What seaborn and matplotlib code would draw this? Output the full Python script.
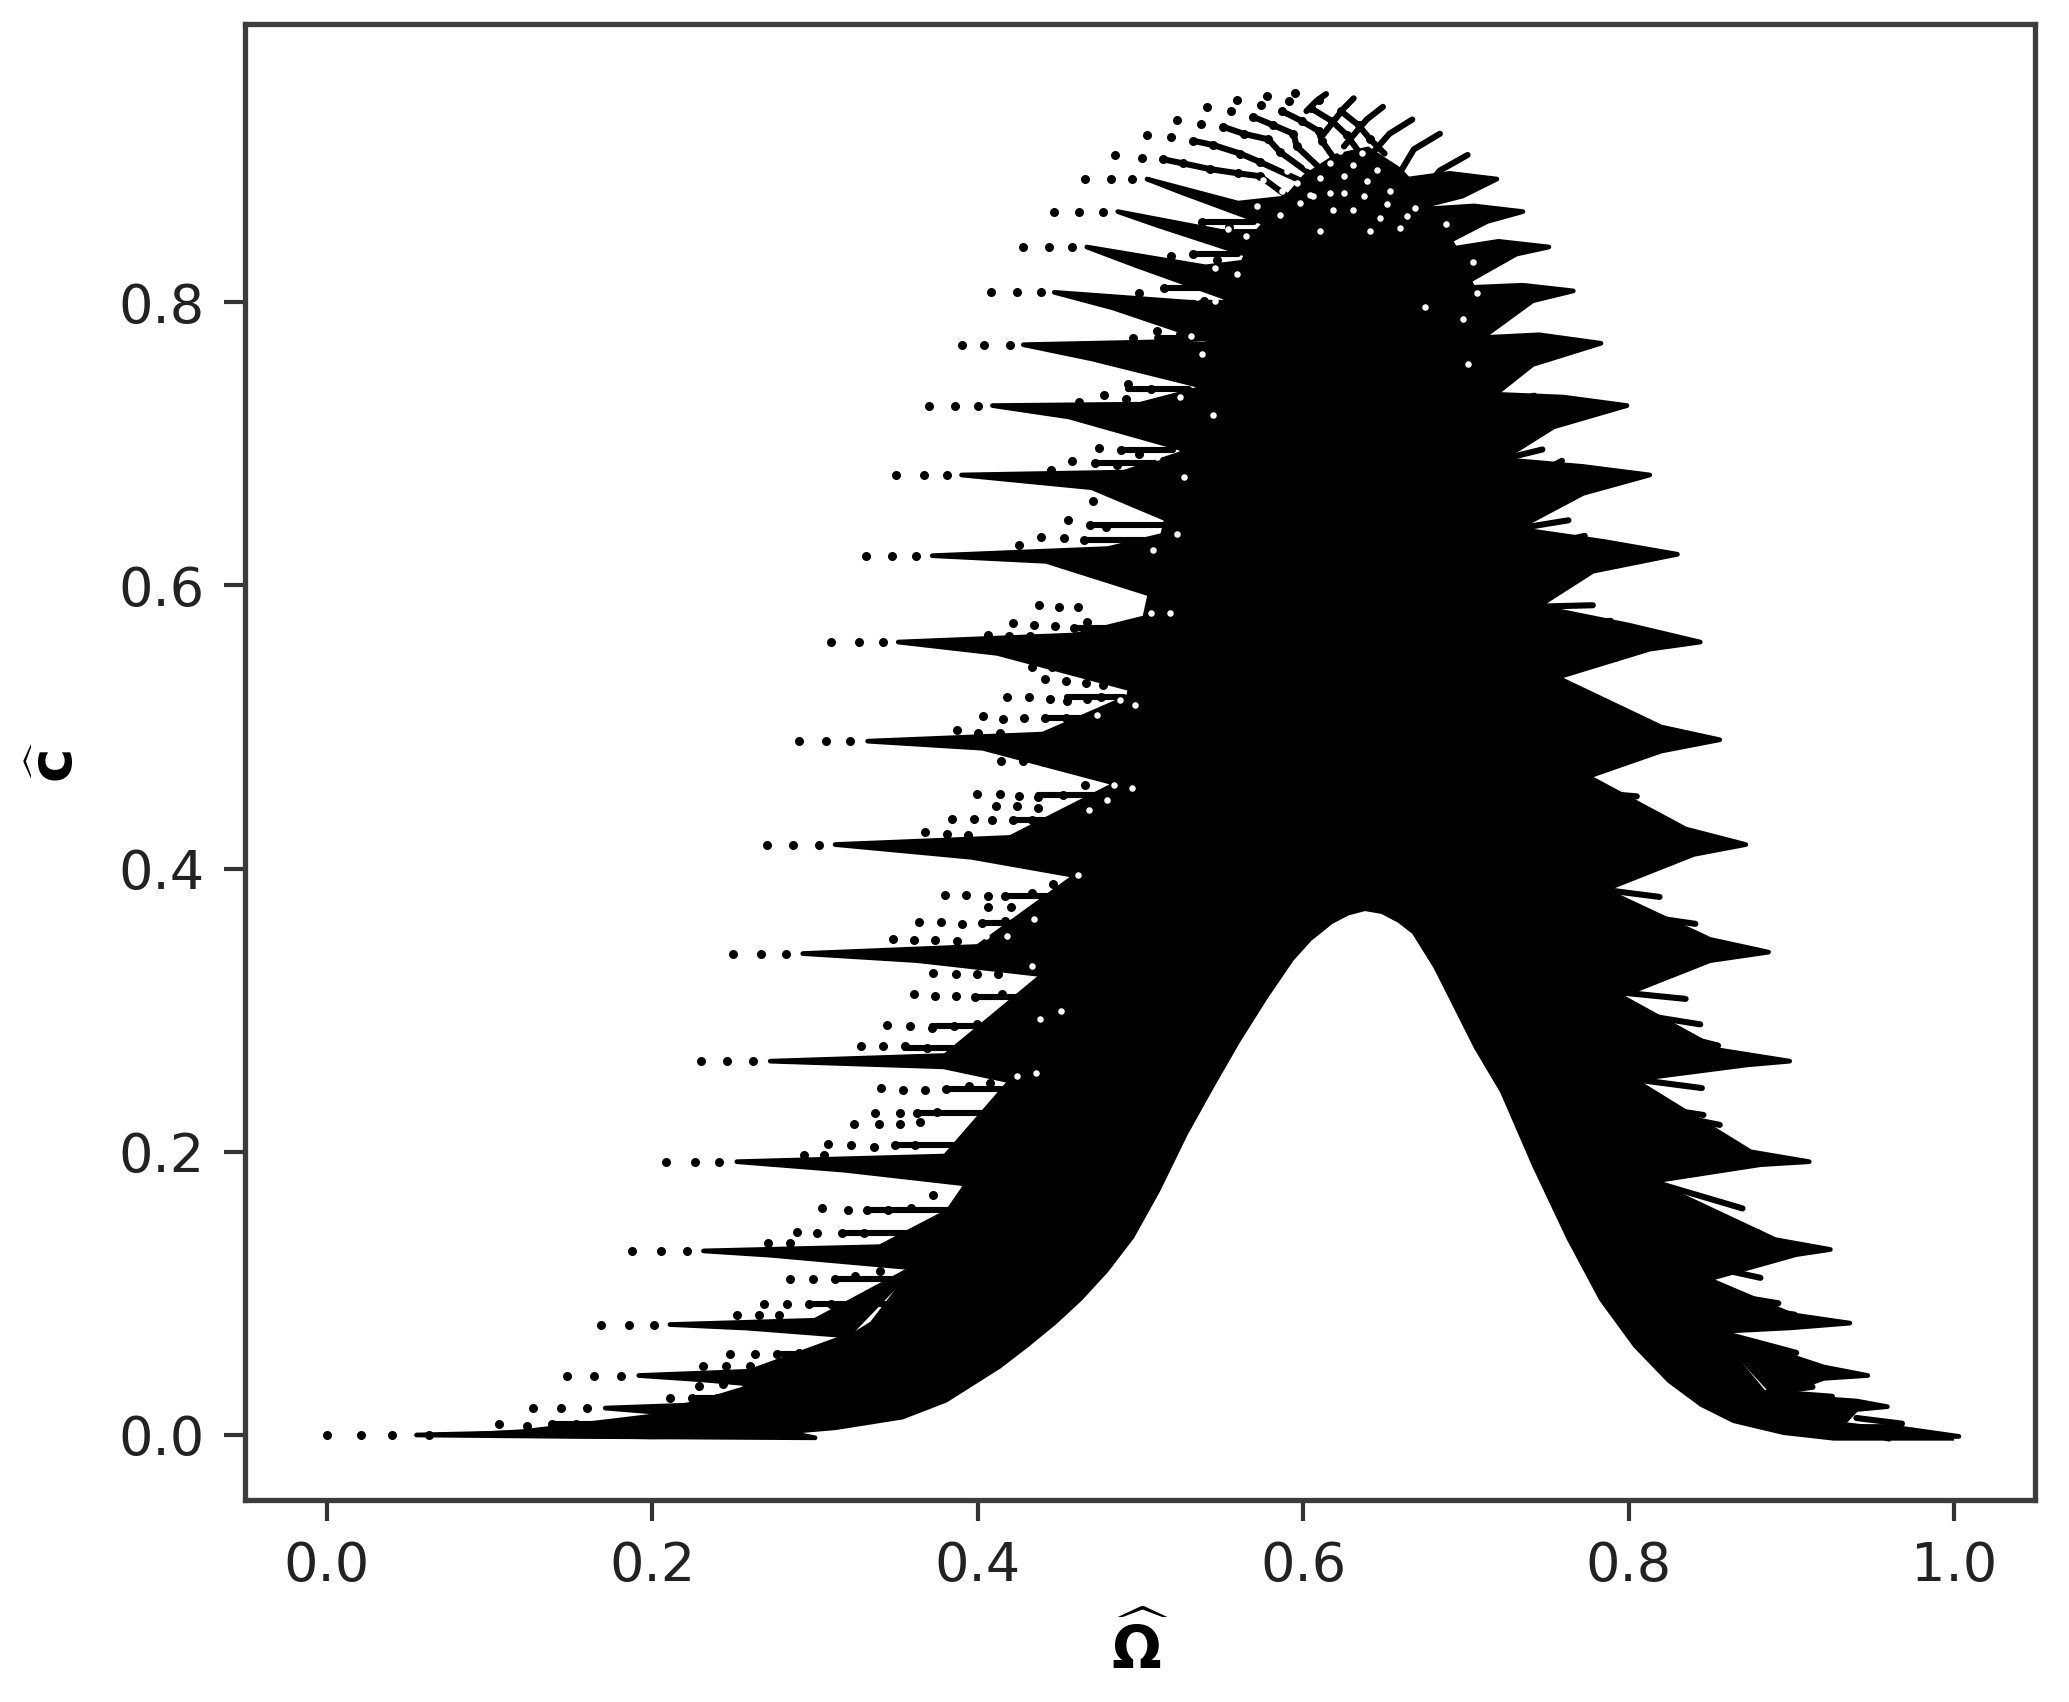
import matplotlib
matplotlib.use("Agg")
import matplotlib.pyplot as plt
import pandas as pd
import seaborn as sns

# solid part of the cloud
top_omega = [0.074, 0.12, 0.20, 0.258, 0.285, 0.313, 0.334, 0.354, 0.366, 0.381, 0.39, 0.407, 0.423, 0.448, 0.464,
             0.48, 0.496, 0.513, 0.529, 0.55, 0.57, 0.60, 0.62, 0.64, 0.66, 0.676, 0.694, 0.71, 0.718, 0.725, 0.731,
             0.744, 0.756, 0.775, 0.785, 0.795, 0.803, 0.814, 0.849, 0.854, 0.885, 0.926, 1.0]
top_c = [0.001, 0.004, 0.015, 0.035, 0.045, 0.065, 0.08, 0.11, 0.13, 0.16, 0.175, 0.22, 0.265, 0.36, 0.41,
         0.455, 0.55, 0.64, 0.72, 0.80, 0.85, 0.89, 0.905, 0.91, 0.895, 0.875, 0.84, 0.80, 0.735, 0.689, 0.64,
         0.585, 0.535, 0.465, 0.385, 0.31, 0.251, 0.179, 0.11, 0.073, 0.03, 0.01, 0.0]
low_omega = [0.074, 0.20, 0.258, 0.313, 0.354, 0.381, 0.414, 0.431, 0.448, 0.464, 0.48, 0.496, 0.512, 0.529, 0.545,
             0.561, 0.578, 0.594, 0.605, 0.618, 0.628, 0.638, 0.648, 0.658, 0.667, 0.68, 0.691, 0.705, 0.721, 0.741,
             0.762, 0.782, 0.803, 0.824, 0.844, 0.864, 0.895, 0.926, 1.0]
low_c = [-0.001, -0.003, -0.002, 0.0035, 0.011, 0.023, 0.047, 0.062, 0.078, 0.095, 0.115, 0.139, 0.172, 0.212, 0.245,
         0.277, 0.308, 0.335, 0.349, 0.361, 0.367, 0.370, 0.368, 0.362, 0.354, 0.33, 0.305, 0.273, 0.242, 0.189,
         0.138, 0.095, 0.062, 0.037, 0.020, 0.0085, 0.0, -0.004, -0.004]

# main rows on the left: level, three loose dots, start of the solid line
left_c = [0.0, 0.019, 0.042, 0.078, 0.130, 0.193, 0.264, 0.340, 0.417, 0.490, 0.560, 0.621, 0.678, 0.727, 0.770,
          0.807, 0.839, 0.864, 0.887]
left_tip = [0.0, 0.1264, 0.1473, 0.1684, 0.1875, 0.2086, 0.2298, 0.2496, 0.2703, 0.29, 0.3097, 0.331, 0.350, 0.370,
            0.390, 0.408, 0.428, 0.447, 0.466]
left_second = [0.021, 0.1437, 0.1642, 0.1856, 0.2053, 0.2259, 0.246, 0.267, 0.2865, 0.3065, 0.3271, 0.347, 0.367,
               0.386, 0.404, 0.424, 0.444, 0.462, 0.482]
left_third = [0.040, 0.1601, 0.1807, 0.2007, 0.2212, 0.241, 0.2618, 0.2822, 0.3022, 0.3217, 0.3417, 0.362, 0.381,
              0.400, 0.420, 0.439, 0.458, 0.477, 0.495]
left_solid = [0.055, 0.171, 0.1916, 0.2108, 0.2314, 0.2519, 0.2724, 0.2924, 0.3123, 0.3323, 0.3511, 0.372, 0.390,
              0.409, 0.428, 0.447, 0.467, 0.486, 0.504]
# lower edge of each row, upper edge, and the gap below it where it meets the body
left_knee = [0.15, 0.203, 0.23, 0.258, 0.272, 0.318, 0.379, 0.363, 0.396, 0.403, 0.412, 0.442, 0.47, 0.456, 0.47,
             0.483, 0.497, 0.511, 0.524]
left_knee_c = [-0.001, 0.016, 0.039, 0.0755, 0.127, 0.187, 0.26, 0.335, 0.408, 0.485, 0.552, 0.617, 0.669, 0.719,
               0.760, 0.796, 0.826, 0.854, 0.878]
left_up = [0.25, 0.22, 0.26, 0.30, 0.34, 0.38, 0.38, 0.40, 0.42, 0.44, 0.46, 0.48, 0.49, 0.50, 0.51, 0.53, 0.54,
           0.55, 0.56]
left_up_c = [0.005, 0.021, 0.045, 0.081, 0.133, 0.197, 0.268, 0.345, 0.422, 0.495, 0.565, 0.626, 0.68, 0.728, 0.772,
             0.80, 0.825, 0.85, 0.87]
left_gap = [0.30, 0.24, 0.28, 0.32, 0.36, 0.41, 0.42, 0.44, 0.46, 0.485, 0.50, 0.53, 0.53, 0.53, 0.54, 0.55, 0.56,
            0.575, 0.59, 0.60]
left_gap_c = [-0.002, 0.012, 0.034, 0.07, 0.118, 0.175, 0.25, 0.325, 0.395, 0.46, 0.525, 0.585, 0.64, 0.695, 0.74,
              0.77, 0.80, 0.83, 0.85, 0.875]

# main rows on the right, same idea
right_tip = [1.003, 0.959, 0.947, 0.936, 0.924, 0.911, 0.899, 0.886, 0.872, 0.856, 0.844, 0.830, 0.813, 0.799, 0.783,
             0.766, 0.751, 0.735, 0.719]
right_c = [-0.001, 0.020, 0.042, 0.079, 0.131, 0.193, 0.264, 0.341, 0.417, 0.491, 0.560, 0.622, 0.678, 0.727, 0.771,
           0.808, 0.839, 0.864, 0.887]
right_knee = [0.96, 0.94, 0.92, 0.90, 0.903, 0.881, 0.873, 0.85, 0.84, 0.82, 0.813, 0.778, 0.772, 0.754, 0.741,
              0.741, 0.731, 0.713, 0.698]
right_knee_c = [-0.002, 0.018, 0.04, 0.0757, 0.1274, 0.1909, 0.2614, 0.335, 0.41, 0.483, 0.555, 0.610, 0.665, 0.712,
                0.756, 0.801, 0.834, 0.857, 0.875]
right_up = [0.96, 0.94, 0.92, 0.90, 0.89, 0.875, 0.855, 0.85, 0.835, 0.82, 0.80, 0.785, 0.772, 0.76, 0.745, 0.735,
            0.72, 0.705, 0.69]
right_up_c = [0.006, 0.024, 0.048, 0.085, 0.138, 0.20, 0.272, 0.35, 0.428, 0.50, 0.572, 0.631, 0.684, 0.733, 0.777,
              0.812, 0.843, 0.868, 0.891]
right_gap = [0.96, 0.93, 0.89, 0.854, 0.849, 0.814, 0.803, 0.795, 0.785, 0.775, 0.756, 0.744, 0.731, 0.722, 0.718,
             0.71, 0.694, 0.676, 0.664, 0.652]
right_gap_c = [-0.003, 0.006, 0.028, 0.073, 0.11, 0.179, 0.251, 0.31, 0.385, 0.465, 0.535, 0.585, 0.64, 0.689, 0.735,
               0.775, 0.81, 0.835, 0.865, 0.885]

# thin rows at the top right: tip, middle, end
streak_omega = [[0.701, 0.684, 0.664], [0.684, 0.668, 0.653], [0.667, 0.653, 0.637], [0.649, 0.639, 0.625],
                [0.631, 0.625, 0.612], [0.614, 0.608, 0.602]]
streak_c = [[0.904, 0.893, 0.865], [0.919, 0.908, 0.879], [0.929, 0.919, 0.898], [0.938, 0.929, 0.91],
            [0.944, 0.937, 0.918], [0.947, 0.942, 0.935]]

# short side rows on the right: tip and base
short_tip_omega = [0.844, 0.855, 0.845, 0.846, 0.856, 0.867, 0.870, 0.880, 0.891, 0.881, 0.892, 0.902, 0.903, 0.915,
                   0.913, 0.925, 0.936, 0.968, 0.778, 0.789, 0.763, 0.773, 0.747, 0.759, 0.742, 0.754, 0.737, 0.705,
                   0.721, 0.805, 0.82, 0.78, 0.804, 0.819, 0.841, 0.82, 0.835, 0.792]
short_tip_c = [0.290, 0.275, 0.245, 0.226, 0.219, 0.205, 0.160, 0.143, 0.136, 0.111, 0.093, 0.085, 0.058, 0.048,
               0.034, 0.027, 0.016, 0.008, 0.586, 0.575, 0.646, 0.635, 0.696, 0.688, 0.734, 0.731, 0.771, 0.834,
               0.806, 0.451, 0.43, 0.515, 0.503, 0.38, 0.361, 0.326, 0.308, 0.548]
short_base_omega = [0.795, 0.82, 0.805, 0.80, 0.83, 0.827, 0.814, 0.84, 0.85, 0.849, 0.85, 0.87, 0.854, 0.875, 0.885,
                    0.89, 0.91, 0.94, 0.744, 0.756, 0.731, 0.745, 0.722, 0.733, 0.717, 0.73, 0.71, 0.69, 0.70, 0.765,
                    0.78, 0.75, 0.77, 0.785, 0.805, 0.785, 0.80, 0.76]
short_base_c = [0.299, 0.285, 0.251, 0.234, 0.225, 0.21, 0.179, 0.152, 0.142, 0.119, 0.101, 0.09, 0.073, 0.053, 0.03,
                0.03, 0.02, 0.012, 0.585, 0.569, 0.640, 0.628, 0.689, 0.672, 0.726, 0.718, 0.77, 0.826, 0.80, 0.455,
                0.435, 0.52, 0.507, 0.385, 0.367, 0.33, 0.312, 0.552]

# side rows on the left: start of the solid part, end in the body, level
side_start = [0.4592, 0.47, 0.455, 0.4416, 0.452, 0.4369, 0.4216, 0.4169, 0.4028, 0.3981, 0.3718, 0.3551, 0.3805,
              0.3629, 0.3492, 0.332, 0.3163, 0.3122, 0.2963, 0.2766, 0.2574, 0.2245, 0.1382, 0.465, 0.4692, 0.4719,
              0.4878, 0.4925, 0.5103, 0.5144, 0.5322, 0.5377]
side_end = [0.52, 0.50, 0.49, 0.49, 0.485, 0.48, 0.47, 0.46, 0.45, 0.44, 0.43, 0.42, 0.42, 0.41, 0.40, 0.39, 0.385,
            0.36, 0.35, 0.33, 0.31, 0.29, 0.25, 0.52, 0.52, 0.52, 0.52, 0.53, 0.54, 0.55, 0.56, 0.57]
side_c = [0.5697, 0.5408, 0.5215, 0.5063, 0.4745, 0.4522, 0.434, 0.381, 0.3617, 0.3096, 0.2889, 0.2736, 0.2442,
          0.2272, 0.2049, 0.1586, 0.1426, 0.1104, 0.0928, 0.0575, 0.0357, 0.0263, 0.0075, 0.6324, 0.643, 0.6866,
          0.6954, 0.739, 0.7748, 0.81, 0.834, 0.8567]

# loose dots between the rows on the left
loose_omega = [0.4376, 0.4498, 0.4616, 0.4216, 0.4345, 0.4475, 0.4592, 0.4674, 0.4063, 0.4193, 0.4322,
               0.4334, 0.4456, 0.4587, 0.47, 0.4757, 0.441, 0.4545, 0.4663, 0.4768, 0.4181, 0.4315, 0.4446, 0.455,
               0.4674, 0.4757, 0.4033, 0.4153, 0.4287, 0.4416, 0.4545, 0.3875, 0.40, 0.4134,
               0.4141, 0.4275, 0.4404, 0.4522, 0.4627, 0.4721, 0.4827, 0.3997, 0.4134, 0.4251, 0.4369, 0.4521, 0.4658,
               0.411, 0.424, 0.4369, 0.384, 0.3976, 0.4087, 0.4216, 0.4334, 0.3676, 0.381, 0.394,
               0.38, 0.393, 0.4063, 0.4169, 0.4334, 0.4463, 0.4063, 0.4204, 0.364, 0.3774, 0.39, 0.4028, 0.4169,
               0.3476, 0.361, 0.374, 0.3875, 0.3727, 0.3864, 0.3993, 0.4122, 0.3605, 0.3739, 0.3868, 0.3981, 0.4146,
               0.3445, 0.3581, 0.3718, 0.3852, 0.3993, 0.3283, 0.3417, 0.3551, 0.3687,
               0.3405, 0.3542, 0.3676, 0.3805, 0.3946, 0.4075, 0.3369, 0.352, 0.3629, 0.3752, 0.324, 0.339, 0.352,
               0.3643, 0.3081, 0.3223, 0.3363, 0.3492, 0.3615, 0.293, 0.3054,
               0.3045, 0.3204, 0.332, 0.345, 0.3588, 0.3725, 0.2889, 0.3012, 0.3163, 0.33, 0.271, 0.2848,
               0.2848, 0.2985, 0.3122, 0.3245, 0.3396, 0.2689, 0.2829, 0.2963, 0.3095, 0.2519, 0.2656, 0.278,
               0.2478, 0.2629, 0.2766, 0.2903, 0.2314, 0.2451, 0.2601, 0.2286, 0.2437, 0.2574, 0.2108, 0.2245, 0.2396,
               0.1059, 0.1231, 0.1382, 0.1533, 0.063,
               0.4254, 0.439, 0.4528, 0.465, 0.4788, 0.4555, 0.4692, 0.4706, 0.445, 0.4582, 0.4719, 0.4856, 0.4747,
               0.4878, 0.4993, 0.4623, 0.4774, 0.4925, 0.5062, 0.4911, 0.4802, 0.4952, 0.5103, 0.524, 0.4993, 0.5144,
               0.5309, 0.539, 0.5185, 0.5322, 0.5473, 0.5377, 0.5541]
loose_c = [0.586, 0.585, 0.5845, 0.5737, 0.572, 0.571, 0.5697, 0.5744, 0.565, 0.564, 0.564,
           0.5422, 0.5427, 0.5408, 0.5403, 0.5408, 0.534, 0.5326, 0.531, 0.53, 0.5215, 0.5215, 0.52, 0.5187,
           0.52, 0.5215, 0.5075, 0.5058, 0.5063, 0.5063, 0.5063, 0.498, 0.4957, 0.4957,
           0.4757, 0.4757, 0.475, 0.4734, 0.4745, 0.4734, 0.471, 0.4527, 0.4527, 0.4515, 0.4503, 0.4522, 0.4588,
           0.444, 0.444, 0.443, 0.4353, 0.4353, 0.434, 0.4346, 0.434, 0.426, 0.4245, 0.424,
           0.3817, 0.3817, 0.3805, 0.381, 0.3829, 0.3888, 0.373, 0.373, 0.3625, 0.3625, 0.361, 0.3617, 0.3629,
           0.350, 0.3495, 0.3495, 0.3488, 0.3265, 0.3253, 0.3253, 0.3253, 0.3112, 0.31, 0.31, 0.3096, 0.3112,
           0.2894, 0.2889, 0.2877, 0.2889, 0.29, 0.2748, 0.2748, 0.2748, 0.2736,
           0.2449, 0.2438, 0.2438, 0.2442, 0.2466, 0.2489, 0.2272, 0.2272, 0.2272, 0.2284, 0.2194, 0.2194, 0.2194,
           0.2213, 0.2056, 0.2049, 0.2037, 0.2049, 0.2049, 0.1978, 0.1978,
           0.1602, 0.159, 0.1586, 0.1586, 0.1602, 0.1696, 0.1431, 0.1426, 0.1426, 0.1426, 0.1356, 0.1356,
           0.1104, 0.1104, 0.1104, 0.1121, 0.1156, 0.0928, 0.0928, 0.0928, 0.0928, 0.085, 0.085, 0.085,
           0.0575, 0.0575, 0.0575, 0.058, 0.0486, 0.0486, 0.0486, 0.0345, 0.0357, 0.0357, 0.0263, 0.0263, 0.0263,
           0.0075, 0.0063, 0.0075, 0.0075, 0.0,
           0.6286, 0.6344, 0.6337, 0.6324, 0.6412, 0.6463, 0.643, 0.6596, 0.6815, 0.6878, 0.6866, 0.6853, 0.6967,
           0.6954, 0.6929, 0.7294, 0.7345, 0.742, 0.739, 0.732, 0.7697, 0.7748, 0.7798, 0.7773, 0.8063, 0.81,
           0.8113, 0.8012, 0.8327, 0.834, 0.83, 0.8567, 0.8529]

# rows of the fan at the top of the cloud
fan_omega = [[0.4843, 0.5007, 0.5136, 0.5264, 0.5428, 0.5602, 0.5735, 0.59],
             [0.5038, 0.5188, 0.5325, 0.5448, 0.5612, 0.5735, 0.60],
             [0.5223, 0.5372, 0.5505, 0.5633, 0.5786, 0.5858, 0.605],
             [0.5407, 0.5557, 0.569, 0.5817, 0.594, 0.596, 0.61],
             [0.5592, 0.5741, 0.5868, 0.5991, 0.6094, 0.6114, 0.62],
             [0.5776, 0.5913, 0.6047, 0.6176, 0.6268, 0.635],
             [0.595, 0.6094, 0.6231, 0.634, 0.6412, 0.65]]
fan_c = [[0.904, 0.902, 0.901, 0.898, 0.894, 0.891, 0.889, 0.875],
         [0.918, 0.917, 0.914, 0.911, 0.905, 0.899, 0.885],
         [0.929, 0.926, 0.924, 0.919, 0.915, 0.906, 0.89],
         [0.938, 0.935, 0.931, 0.925, 0.919, 0.91, 0.895],
         [0.943, 0.939, 0.935, 0.928, 0.921, 0.914, 0.90],
         [0.946, 0.942, 0.937, 0.928, 0.918, 0.905],
         [0.948, 0.943, 0.935, 0.925, 0.915, 0.905]]

# small white holes left in the black part
hole_omega = [0.5755, 0.5868, 0.596, 0.6063, 0.6104, 0.6248, 0.6391, 0.6371, 0.6514, 0.6186, 0.6309, 0.6473, 0.6104,
              0.6412, 0.6596, 0.6637, 0.6688, 0.5715, 0.5858, 0.6166, 0.6248, 0.6043, 0.5981, 0.6535, 0.6453, 0.6309,
              0.6166, 0.6022, 0.5899, 0.6084, 0.6227, 0.6361,
              0.4874, 0.4733, 0.5062, 0.518, 0.4616, 0.4345, 0.418, 0.405, 0.4334, 0.451, 0.438, 0.4357, 0.424, 0.4968,
              0.4945, 0.4792, 0.4839, 0.4686, 0.554, 0.565, 0.5596, 0.546, 0.535, 0.546, 0.531, 0.5377, 0.524, 0.5446,
              0.5103, 0.5267, 0.5076, 0.5226, 0.688, 0.7067, 0.6749, 0.6985, 0.7015, 0.7046]
hole_c = [0.8865, 0.8783, 0.8842, 0.8747, 0.8877, 0.8889, 0.8853, 0.8752, 0.8696, 0.8649, 0.8654, 0.8595, 0.8505,
          0.85, 0.8524, 0.8607, 0.8665, 0.8677, 0.8618, 0.8771, 0.8771, 0.8759, 0.8701, 0.8783, 0.8935, 0.8971,
          0.8983, 0.8971, 0.8924, 0.9065, 0.9065, 0.9053,
          0.5192, 0.5086, 0.5803, 0.5803, 0.3958, 0.3641, 0.3523, 0.3523, 0.3312, 0.2995, 0.2936, 0.256, 0.2537,
          0.5157, 0.4569, 0.4487, 0.4593, 0.4417, 0.8516, 0.8466, 0.8201, 0.824, 0.8038, 0.8012, 0.776, 0.7634, 0.733,
          0.7206, 0.6904, 0.6765, 0.625, 0.6362, 0.855, 0.8064, 0.7966, 0.7882, 0.7562, 0.8287]

x_ticks = [0.0, 0.2, 0.4, 0.6, 0.8, 1.0]
y_ticks = [0.0, 0.2, 0.4, 0.6, 0.8]

sns.set_style("ticks")
plt.rcParams['font.family'] = ['DejaVu Sans']
plt.rcParams['mathtext.fontset'] = 'dejavusans'

fig, ax = plt.subplots(figsize=(20.69, 17.02), dpi=100)
fig.subplots_adjust(left=0.1184, right=0.9836, bottom=0.1187, top=0.9859)

# solid body
ax.fill(top_omega + low_omega[::-1], top_c + low_c[::-1], color="black", linewidth=0)

# main rows, each closed between the gap below it and the gap above it
for i, c in enumerate(left_c):
    ax.fill([left_solid[i], left_up[i], left_gap[i + 1], left_gap[i], left_knee[i]],
            [c, left_up_c[i], left_gap_c[i + 1], left_gap_c[i], left_knee_c[i]],
            color="black", linewidth=3.4, joinstyle="round")
for i, c in enumerate(right_c):
    ax.fill([right_tip[i], right_up[i], right_gap[i + 1], right_gap[i], right_knee[i]],
            [c, right_up_c[i], right_gap_c[i + 1], right_gap_c[i], right_knee_c[i]],
            color="black", linewidth=3.4, joinstyle="round")

# thin lines: short rows, side rows, streaks and the inner part of the fan rows
line_rows = []
for i in range(len(short_tip_omega)):
    line_rows.append(([short_tip_omega[i], short_base_omega[i]], [short_tip_c[i], short_base_c[i]]))
for i in range(len(side_c)):
    line_rows.append(([side_start[i], side_end[i]], [side_c[i], side_c[i]]))
for om, c in zip(streak_omega, streak_c):
    line_rows.append((om, c))
for om, c in zip(fan_omega, fan_c):
    line_rows.append((om[2:], c[2:]))

line_df = pd.concat([pd.DataFrame({"omega": om, "c": c, "row": i}) for i, (om, c) in enumerate(line_rows)])
sns.lineplot(data=line_df, x="omega", y="c", units="row", estimator=None, sort=False, color="black",
             linewidth=4.4, solid_capstyle="round", ax=ax)

# all the single dots
fan_flat_omega = [v for row in fan_omega for v in row[:-1]]
fan_flat_c = [v for row in fan_c for v in row[:-1]]
dots = pd.DataFrame({
    "omega": left_tip + left_second + left_third + loose_omega + fan_flat_omega,
    "c": left_c * 3 + loose_c + fan_flat_c,
})
sns.scatterplot(data=dots, x="omega", y="c", color="black", s=42, linewidth=0, ax=ax)

holes = pd.DataFrame({"omega": hole_omega, "c": hole_c})
sns.scatterplot(data=holes, x="omega", y="c", color="white", s=22, linewidth=0, ax=ax, zorder=5)

ax.set_xlim(-0.0504, 1.0498)
ax.set_ylim(-0.0459, 0.9965)
ax.set_xticks(x_ticks)
ax.set_yticks(y_ticks)
ax.tick_params(length=15, width=3, color="#333333", labelcolor="#222222", labelsize=39, pad=14)
for side in ax.spines.values():
    side.set_linewidth(3.8)
    side.set_color("#3c3c3c")

ax.set_xlabel(r"$\widehat{\mathbf{\Omega}}$", fontsize=42, color="black", labelpad=16)
ax.set_ylabel(r"$\widehat{\mathbf{c}}$", fontsize=42, color="black", labelpad=24)

plt.savefig("out.png", dpi=100)
